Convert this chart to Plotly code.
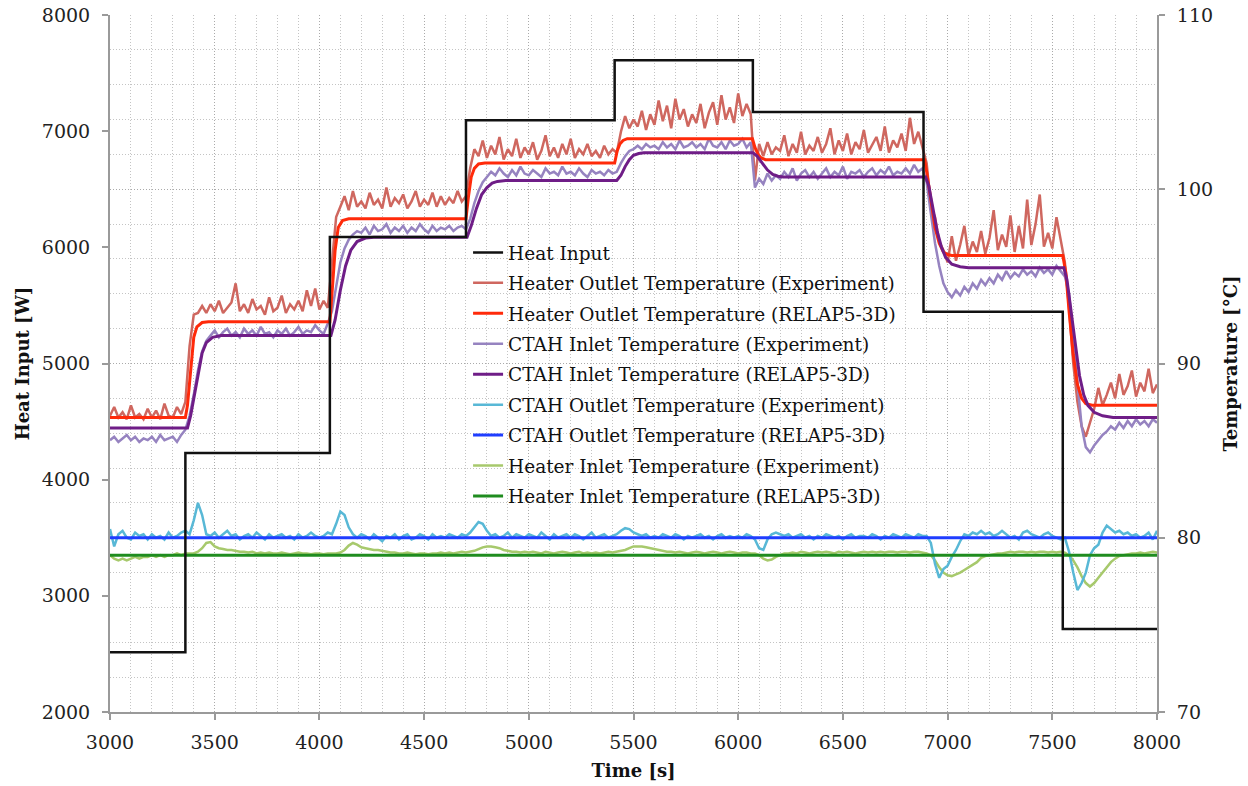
import numpy as np
import plotly.graph_objects as go

# ---------------- data ----------------
# Experimental temperatures sampled every 20 s from 3000 s to 8000 s (degC)
t_start, t_step = 3000, 20

heater_outlet_exp = [
    87.0, 87.5, 86.9, 87.2, 86.8, 87.6, 86.9, 87.1, 86.8, 87.4,
    86.9, 87.3, 86.8, 87.7, 87.0, 86.9, 87.5, 87.1, 87.8, 91.0,
    92.8, 92.9, 93.3, 92.9, 93.4, 93.0, 93.6, 92.9, 93.2, 93.5,
    94.6, 93.0, 93.4, 92.9, 93.7, 93.1, 93.3, 92.8, 93.8, 93.0,
    93.2, 93.9, 92.9, 93.4, 93.1, 93.6, 93.0, 94.2, 93.3, 94.3,
    93.1, 93.6, 93.2, 96.0, 98.4, 99.0, 99.6, 98.8, 99.9, 99.0,
    99.3, 98.9, 99.8, 99.1, 99.4, 98.9, 100.1, 99.0, 99.5, 99.2,
    99.7, 98.9, 99.3, 99.9, 99.0, 99.4, 99.1, 99.8, 99.0, 99.6,
    99.1, 99.5, 99.2, 99.9, 99.3, 99.6, 101.2, 102.3, 101.9, 102.8,
    101.8, 102.5, 102.0, 103.0, 101.7, 102.3, 101.9, 102.9, 101.8, 102.4,
    102.0, 102.7, 101.7, 102.2, 103.1, 101.9, 102.4, 101.8, 102.6, 102.0,
    102.9, 101.8, 102.3, 102.0, 102.6, 101.9, 102.2, 101.8, 102.5, 102.0,
    102.3, 102.1, 103.3, 104.2, 103.5, 104.0, 103.6, 104.5, 103.4, 104.3,
    103.7, 105.1, 103.9, 104.8, 103.5, 105.2, 104.0, 104.6, 103.6, 104.3,
    103.8, 104.9, 103.5, 104.4, 105.0, 103.7, 105.4, 104.0, 104.7, 103.8,
    105.5, 104.2, 104.9, 104.3, 100.5, 102.6, 101.9, 102.7, 102.0, 102.4,
    102.2, 103.1, 101.9, 102.6, 102.1, 103.3, 102.0, 102.5, 102.2, 103.0,
    102.1, 102.6, 103.5, 102.0, 102.8, 102.2, 103.2, 102.0, 102.7, 102.3,
    103.4, 102.1, 102.6, 103.0, 102.2, 103.6, 102.1, 102.8, 102.4, 103.2,
    102.2, 104.1, 102.6, 103.3, 102.4, 101.5, 99.0, 98.4, 97.0, 96.5,
    95.8, 97.3, 95.9, 96.8, 97.9, 96.2, 97.0, 96.4, 97.6, 96.3,
    97.2, 98.8, 96.5, 97.4, 96.7, 98.5, 96.4, 97.9, 96.6, 99.4,
    96.8, 98.0, 99.7, 96.7, 97.5, 96.6, 98.4, 97.0, 95.8, 93.2,
    90.0, 87.8, 86.4, 85.8, 86.6, 87.4, 88.6, 87.6, 88.2, 88.9,
    88.0, 89.4, 88.2, 88.7, 89.6, 88.1, 88.9, 88.4, 89.7, 88.3,
    88.8,
]

ctah_inlet_exp = [
    85.6, 85.8, 85.5, 85.7, 85.9, 85.6, 85.8, 85.5, 85.7, 85.6,
    85.8, 85.5, 85.9, 85.6, 85.7, 85.8, 85.5, 85.9, 86.2, 87.0,
    88.2, 89.6, 90.7, 91.3, 91.6, 91.9, 91.5, 91.8, 92.0, 91.6,
    91.8, 91.5, 92.0, 91.7, 91.9, 91.6, 92.1, 91.7, 91.8, 91.5,
    91.9, 91.7, 92.0, 91.6, 91.8, 92.1, 91.7, 91.9, 91.8, 92.2,
    91.9, 91.7, 92.3, 93.0, 94.4, 95.8, 96.6, 97.1, 97.4, 97.6,
    97.5, 97.8, 97.4, 97.9, 97.6, 97.7, 98.0, 97.5, 97.8, 97.6,
    97.9, 97.5, 97.8, 97.6, 98.0, 97.7, 97.5, 97.9, 97.6, 97.8,
    97.7, 97.9, 97.6, 97.8, 97.9, 97.7, 98.3, 99.2, 99.9, 100.4,
    100.7, 101.0, 100.8, 101.2, 100.9, 100.7, 101.1, 100.8, 101.3, 100.9,
    100.8, 101.1, 100.9, 100.7, 101.2, 100.9, 101.0, 100.8, 101.3, 100.9,
    101.0, 100.8, 101.2, 100.9, 100.7, 101.1, 100.9, 101.0, 100.8, 101.1,
    100.9, 101.0, 101.5, 101.9, 102.2, 102.3, 102.5, 102.3, 102.6, 102.4,
    102.5, 102.3, 102.7, 102.4, 102.6, 102.3, 102.8, 102.4, 102.5, 102.7,
    102.4, 102.6, 102.3, 102.9, 102.5, 102.4, 102.7, 102.3, 102.8, 102.5,
    102.6, 102.9, 102.4, 102.7, 100.1, 100.6, 100.3, 100.9, 100.5, 100.8,
    100.6, 101.0, 100.7, 101.2, 100.5, 100.9, 101.1, 100.7, 101.0, 100.6,
    100.9, 101.2, 100.7, 101.0, 100.8, 101.3, 100.6, 101.0, 100.9, 101.1,
    100.7, 101.0, 101.2, 100.8, 101.1, 100.9, 101.3, 100.8, 101.0, 100.9,
    101.2, 100.9, 101.4, 101.0, 101.2, 100.4, 98.6, 96.9, 95.6, 94.6,
    94.1, 93.8, 94.2, 93.9, 94.4, 94.1, 94.6, 94.3, 94.8, 94.5,
    94.9, 94.6, 95.1, 94.8, 95.3, 94.9, 95.2, 95.0, 95.4, 95.1,
    95.3, 95.0, 95.5, 95.2, 95.4, 95.1, 95.6, 95.3, 95.0, 94.0,
    91.5, 88.8, 86.4, 85.2, 84.9, 85.3, 85.6, 85.9, 86.1, 86.4,
    86.2, 86.6, 86.3, 86.7, 86.4, 86.8, 86.5, 86.7, 86.4, 86.8,
    86.6,
]

ctah_outlet_exp = [
    80.5, 79.5, 80.2, 80.4, 80.0, 79.9, 80.3, 80.1, 80.2, 79.9,
    80.2, 80.0, 80.1, 79.9, 80.3, 80.0, 80.1, 80.3, 80.4, 80.2,
    81.0, 82.0, 81.3, 80.2, 80.1, 80.3, 80.0, 80.2, 80.4, 80.1,
    80.2, 79.9, 80.1, 80.2, 80.0, 80.3, 80.1, 79.9, 80.2, 80.0,
    80.1, 80.2, 80.0, 80.1, 79.9, 80.2, 80.0, 80.1, 80.3, 80.1,
    80.0, 80.1, 80.3, 80.2, 80.8, 81.5, 81.3, 80.6, 80.2, 80.0,
    80.2, 80.1, 79.9, 80.2, 80.0, 79.8, 80.1, 80.0, 80.2, 79.9,
    80.1, 80.2, 79.9, 80.0, 80.2, 80.1, 79.9, 80.2, 80.0, 80.1,
    80.0, 80.2, 80.1, 80.0, 80.2, 80.1, 80.3, 80.6, 80.9, 80.8,
    80.4, 80.1, 80.2, 80.0, 80.1, 80.3, 80.0, 80.2, 80.1, 80.0,
    80.2, 80.1, 80.0, 80.3, 80.1, 79.9, 80.2, 80.0, 80.1, 80.2,
    80.0, 80.2, 80.1, 79.9, 80.1, 80.3, 80.0, 80.1, 80.2, 80.0,
    80.1, 80.2, 80.4, 80.55, 80.5, 80.3, 80.2, 80.1, 80.2, 80.0,
    80.1, 80.0, 80.2, 80.1, 80.0, 80.2, 80.1, 79.9, 80.1, 80.0,
    80.1, 80.2, 80.0, 80.1, 79.9, 80.1, 80.2, 80.0, 80.1, 80.0,
    80.1, 80.0, 80.2, 80.1, 79.9, 79.4, 79.3, 79.9, 80.2, 80.3,
    80.2, 80.1, 80.2, 80.0, 80.1, 80.2, 80.0, 80.1, 79.9, 80.1,
    80.0, 80.2, 80.1, 80.0, 80.1, 79.9, 80.1, 80.2, 80.0, 80.1,
    80.1, 80.0, 80.2, 80.1, 79.9, 80.1, 80.0, 80.2, 80.1, 80.0,
    80.2, 80.1, 80.0, 80.2, 80.1, 80.1, 79.7, 78.5, 77.7, 78.2,
    78.4, 78.9, 79.3, 79.8, 80.2, 80.1, 80.3, 80.2, 80.4, 80.2,
    80.3, 80.1, 80.2, 80.4, 80.2, 80.0, 80.1, 79.9, 80.3, 80.4,
    80.2, 80.1, 80.0, 80.2, 80.3, 80.1, 80.0, 79.9, 80.0, 79.2,
    78.0, 77.0, 77.4, 78.0, 79.0, 79.4, 79.6, 80.3, 80.7, 80.5,
    80.3, 80.4, 80.2, 80.3, 80.1, 80.2, 80.0, 80.1, 80.3, 79.9,
    80.4,
]

heater_inlet_exp = [
    79.0, 78.8, 78.7, 78.8, 78.7, 78.8, 78.9, 78.8, 78.9, 78.9,
    79.0, 78.9, 79.0, 78.9, 79.0, 79.0, 79.1, 79.0, 79.1, 79.1,
    79.1, 79.2, 79.4, 79.7, 79.75, 79.5, 79.4, 79.35, 79.3, 79.3,
    79.25, 79.2, 79.2, 79.15, 79.2, 79.1, 79.15, 79.1, 79.15, 79.1,
    79.1, 79.15, 79.1, 79.05, 79.1, 79.15, 79.1, 79.1, 79.05, 79.1,
    79.1, 79.05, 79.1, 79.1, 79.1, 79.15, 79.3, 79.55, 79.7, 79.6,
    79.45, 79.4, 79.35, 79.3, 79.3, 79.25, 79.2, 79.15, 79.15, 79.1,
    79.1, 79.15, 79.1, 79.05, 79.1, 79.1, 79.05, 79.1, 79.1, 79.15,
    79.1, 79.15, 79.1, 79.15, 79.2, 79.15, 79.2, 79.25, 79.35, 79.45,
    79.5, 79.5, 79.45, 79.4, 79.3, 79.25, 79.2, 79.2, 79.15, 79.2,
    79.15, 79.2, 79.15, 79.1, 79.2, 79.15, 79.1, 79.15, 79.2, 79.15,
    79.1, 79.15, 79.2, 79.1, 79.15, 79.1, 79.15, 79.1, 79.15, 79.2,
    79.15, 79.2, 79.25, 79.3, 79.4, 79.5, 79.5, 79.5, 79.45, 79.4,
    79.35, 79.3, 79.25, 79.2, 79.2, 79.15, 79.2, 79.15, 79.1, 79.15,
    79.2, 79.15, 79.1, 79.15, 79.2, 79.15, 79.1, 79.15, 79.2, 79.15,
    79.1, 79.15, 79.15, 79.1, 79.1, 79.0, 78.8, 78.7, 78.75, 78.9,
    79.0, 79.1, 79.1, 79.15, 79.1, 79.2, 79.15, 79.1, 79.15, 79.2,
    79.15, 79.2, 79.15, 79.1, 79.2, 79.15, 79.2, 79.15, 79.1, 79.15,
    79.2, 79.15, 79.2, 79.15, 79.2, 79.15, 79.2, 79.2, 79.15, 79.2,
    79.2, 79.15, 79.2, 79.2, 79.15, 79.1, 79.0, 78.7, 78.3, 78.0,
    77.85, 77.8, 77.9, 78.0, 78.15, 78.3, 78.45, 78.6, 78.85, 78.95,
    79.0, 79.05, 79.1, 79.1, 79.15, 79.2, 79.15, 79.2, 79.2, 79.15,
    79.2, 79.15, 79.2, 79.2, 79.15, 79.2, 79.15, 79.2, 79.15, 79.0,
    78.7, 78.3, 77.8, 77.4, 77.2, 77.4, 77.7, 78.0, 78.3, 78.6,
    78.8, 78.95, 79.0, 79.05, 79.1, 79.1, 79.15, 79.1, 79.15, 79.2,
    79.15,
]

exp_time = [t_start + t_step * i for i in range(len(heater_outlet_exp))]

# RELAP5-3D predictions (time [s], temperature [degC])
heater_outlet_relap_t = [3000, 3360, 3370, 3380, 3390, 3400, 3415, 3440, 3470,
                         4050, 4060, 4075, 4090, 4110, 4140,
                         4700, 4712, 4725, 4740, 4760, 4790,
                         5410, 5422, 5435, 5450, 5470, 5500,
                         6068, 6080, 6095, 6110, 6130, 6160,
                         6890, 6900, 6920, 6940, 6960, 6980, 7000, 7020,
                         7550, 7565, 7580, 7600, 7620, 7640, 7660, 7690, 8000]
heater_outlet_relap = [86.9, 86.9, 87.6, 89.0, 90.4, 91.5, 92.1, 92.35, 92.4,
                       92.4, 94.0, 96.5, 97.8, 98.2, 98.3,
                       98.3, 99.6, 100.7, 101.2, 101.45, 101.5,
                       101.5, 102.2, 102.6, 102.8, 102.9, 102.9,
                       102.9, 102.4, 102.0, 101.8, 101.7, 101.7,
                       101.7, 101.0, 99.3, 97.8, 96.9, 96.4, 96.25, 96.2,
                       96.2, 95.2, 93.0, 90.5, 88.8, 88.0, 87.7, 87.6, 87.6]

ctah_inlet_relap_t = [3000, 3370, 3385, 3400, 3420, 3440, 3460, 3490, 3530,
                      4055, 4075, 4100, 4125, 4150, 4180, 4220, 4260,
                      4705, 4725, 4750, 4775, 4800, 4825, 4850, 4890,
                      5420, 5440, 5460, 5480, 5500, 5525, 5550,
                      6070, 6090, 6115, 6140, 6165, 6190, 6215, 6250,
                      6895, 6910, 6930, 6950, 6970, 6990, 7020, 7060, 7100,
                      7555, 7570, 7590, 7610, 7630, 7650, 7670, 7700, 7740, 7790, 8000]
ctah_inlet_relap = [86.3, 86.3, 87.0, 88.0, 89.5, 90.6, 91.2, 91.5, 91.6,
                    91.6, 92.5, 94.2, 95.6, 96.5, 97.0, 97.2, 97.25,
                    97.25, 97.9, 98.9, 99.7, 100.1, 100.35, 100.45, 100.5,
                    100.5, 100.8, 101.3, 101.7, 101.95, 102.05, 102.1,
                    102.1, 101.9, 101.5, 101.1, 100.85, 100.75, 100.7, 100.7,
                    100.7, 100.2, 98.8, 97.6, 96.7, 96.1, 95.7, 95.55, 95.5,
                    95.5, 94.8, 93.0, 91.0, 89.3, 88.2, 87.6, 87.2, 87.0, 86.9, 86.9]

ctah_outlet_relap_t = [3000, 8000]
ctah_outlet_relap = [80.0, 80.0]
heater_inlet_relap_t = [3000, 8000]
heater_inlet_relap = [79.0, 79.0]

# Heater power schedule (W), held constant after each change time
heat_input_t = [3000, 3360, 4050, 4700, 5410, 6070, 6885, 7550, 8000]
heat_input_w = [2515, 4230, 6090, 7095, 7610, 7165, 5445, 2715, 2715]

# ---------------- styling ----------------
SERIF = "DejaVu Serif"
AXIS_GREY = "#9a9a9a"

series = [
    # name, x, y, colour, width, legend rank
    ("Heater Outlet Temperature (Experiment)", exp_time, heater_outlet_exp, "#cf675f", 2.5, 2),
    ("CTAH Inlet Temperature (Experiment)", exp_time, ctah_inlet_exp, "#9683c0", 2.5, 4),
    ("Heater Outlet Temperature (RELAP5-3D)", heater_outlet_relap_t, heater_outlet_relap, "#ff2a0a", 3.0, 3),
    ("CTAH Inlet Temperature (RELAP5-3D)", ctah_inlet_relap_t, ctah_inlet_relap, "#6f1d87", 3.0, 5),
    ("Heater Inlet Temperature (Experiment)", exp_time, heater_inlet_exp, "#a7c96c", 2.5, 8),
    ("CTAH Outlet Temperature (Experiment)", exp_time, ctah_outlet_exp, "#58b8d6", 2.5, 6),
    ("Heater Inlet Temperature (RELAP5-3D)", heater_inlet_relap_t, heater_inlet_relap, "#1f8c1f", 3.0, 9),
    ("CTAH Outlet Temperature (RELAP5-3D)", ctah_outlet_relap_t, ctah_outlet_relap, "#1f3dff", 3.0, 7),
]

fig = go.Figure()
for name, x, y, colour, width, rank in series:
    fig.add_trace(go.Scatter(
        x=x, y=y, name=name, mode="lines", yaxis="y",
        line=dict(color=colour, width=width),
        legendrank=rank, legendgroup=name,
    ))

fig.add_trace(go.Scatter(
    x=heat_input_t, y=heat_input_w, name="Heat Input", mode="lines",
    yaxis="y2", line=dict(color="#111111", width=2.5, shape="hv"),
    legendrank=1, legendgroup="Heat Input",
))

tick_font = dict(family=SERIF, size=19, color="#222222")
title_font = dict(family=SERIF, size=18, color="#111111")
grid_dash = "1px,2px"

fig.update_layout(
    width=1248, height=786,
    margin=dict(l=110, r=91, t=15, b=74, autoexpand=False),
    paper_bgcolor="white", plot_bgcolor="white",
    showlegend=True,
    legend=dict(
        x=0.342, y=0.686, xanchor="left", yanchor="top",
        bgcolor="rgba(0,0,0,0)", borderwidth=0,
        font=dict(family=SERIF, size=18.5, color="#111111"),
        traceorder="grouped", tracegroupgap=3.4,
    ),
    xaxis=dict(
        range=[3000, 8000], dtick=500, tick0=3000, automargin=False,
        showline=True, linecolor=AXIS_GREY, linewidth=2,
        ticks="outside", ticklen=6, tickcolor=AXIS_GREY, tickwidth=1.5,
        tickfont=tick_font, ticklabelstandoff=6,
        showgrid=True, gridcolor="#aaaaaa", gridwidth=1, griddash=grid_dash,
        minor=dict(dtick=100, showgrid=True, gridcolor="#c4c4c4",
                   gridwidth=1, griddash=grid_dash),
        zeroline=False,
        title=dict(text="<b>Time [s]</b>", font=title_font, standoff=13),
    ),
    yaxis=dict(
        range=[70, 110], dtick=10, side="right", automargin=False,
        showline=True, linecolor=AXIS_GREY, linewidth=2,
        ticks="outside", ticklen=6, tickcolor=AXIS_GREY, tickwidth=1.5,
        tickfont=tick_font, ticklabelstandoff=8,
        showgrid=True, gridcolor="#aaaaaa", gridwidth=1, griddash=grid_dash,
        minor=dict(dtick=2, showgrid=True, gridcolor="#c4c4c4",
                   gridwidth=1, griddash=grid_dash),
        zeroline=False,
        title=dict(text="<b>Temperature [°C]</b>", font=title_font, standoff=12),
    ),
    yaxis2=dict(
        range=[2000, 8000], dtick=1000, side="left", overlaying="y",
        automargin=False,
        showline=True, linecolor=AXIS_GREY, linewidth=2,
        ticks="outside", ticklen=6, tickcolor=AXIS_GREY, tickwidth=1.5,
        tickfont=tick_font, ticklabelstandoff=8, showgrid=False, zeroline=False,
        title=dict(text="<b>Heat Input [W]</b>", font=title_font, standoff=8),
    ),
)

fig.write_html("out.html")
